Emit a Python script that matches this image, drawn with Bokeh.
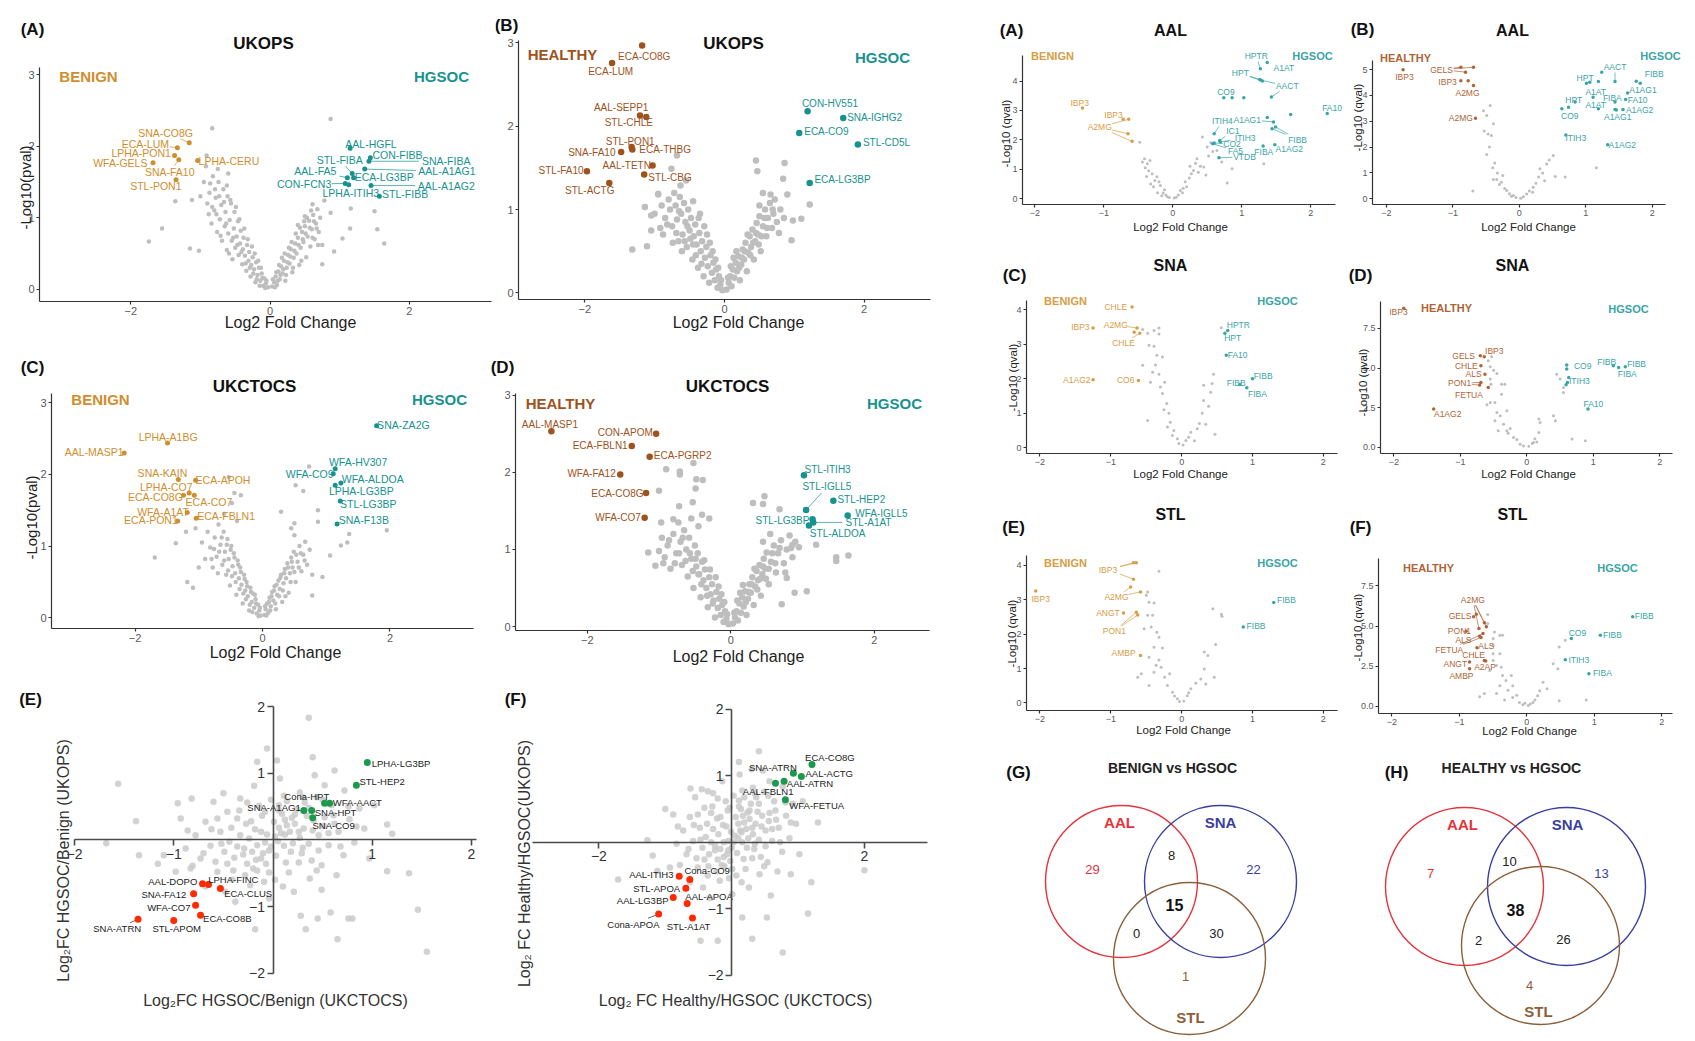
import math
from bokeh.plotting import figure
from bokeh.models import Range1d, FixedTicker, Label, NumeralTickFormatter
from bokeh.layouts import row, column
from bokeh.core.properties import value
from bokeh.embed import file_html
from bokeh.resources import INLINE

FONT = "Liberation Sans"
ORANGE = "#CF8E2E"; TEAL = "#17928F"; BROWN = "#9E521C"; GRAY = "#BEBEBE"
ORANGE_R = "#D69D45"; TEAL_R = "#3AA4A6"; BROWN_R = "#AE6436"
GREEN = "#1B9A4E"; RED = "#FF2A00"

# ---------------- DATA ----------------
# (A) UKOPS benign vs HGSOC
A_names = ["SNA-CO8G","ECA-LUM","LPHA-PON1","WFA-GELS","SNA-FA10","STL-PON1","LPHA-CERU","AAL-HGFL","CON-FIBB","STL-FIBA","SNA-FIBA","AAL-A1AG1","AAL-FA5","ECA-LG3BP","CON-FCN3","LPHA-ITIH3","AAL-A1AG2","STL-FIBB"]
A_fc = [-1.16,-1.33,-1.37,-1.68,-1.31,-1.35,-1.04,1.15,1.44,1.18,1.42,1.36,1.11,1.20,1.08,1.13,1.45,1.57]
A_lp = [2.05,1.98,1.87,1.77,1.81,1.53,1.80,1.97,1.84,1.62,1.79,1.68,1.56,1.56,1.48,1.46,1.45,1.30]
A_lpos = [(-1.50,2.19),(-1.79,2.03),(-1.85,1.90),(-2.15,1.77),(-1.44,1.64),(-1.64,1.44),(-0.59,1.80),(1.45,2.03),(1.83,1.88),(1.00,1.81),(2.53,1.79),(2.54,1.65),(0.65,1.65),(1.64,1.57),(0.49,1.47),(1.16,1.35),(2.53,1.45),(1.94,1.33)]
A_bg = [(-0.03,0.03),(-0.06,0.08),(-0.08,0.15),(-0.1,0.05),(-0.12,0.22),(-0.14,0.12),(-0.16,0.3),(-0.18,0.2),(-0.2,0.38),(-0.21,0.1),(-0.23,0.28),(-0.25,0.45),(-0.27,0.34),(-0.28,0.18),(-0.3,0.52),(-0.31,0.4),(-0.33,0.62),(-0.34,0.26),(-0.36,0.47),(-0.38,0.72),(-0.39,0.56),(-0.4,0.35),(-0.42,0.82),(-0.43,0.64),(-0.45,0.48),(-0.46,0.95),(-0.48,0.74),(-0.5,0.58),(-0.51,1.08),(-0.52,0.85),(-0.54,0.42),(-0.55,0.68),(-0.56,1.2),(-0.58,0.97),(-0.6,0.78),(-0.61,1.3),(-0.62,0.55),(-0.64,1.08),(-0.65,0.88),(-0.67,1.4),(-0.69,0.68),(-0.7,1.18),(-0.72,0.98),(-0.74,1.5),(-0.76,0.8),(-0.78,1.28),(-0.8,1.1),(-0.82,1.58),(-0.84,0.92),(-0.87,1.35),(-0.9,1.2),(-0.95,1.5),(-1.0,1.3),(-0.92,1.72),(-0.62,1.45),
        (-0.05,0.12),(-0.07,0.02),(-0.11,0.16),(-0.13,0.3),(-0.15,0.05),(-0.17,0.4),(-0.19,0.14),(-0.22,0.5),(-0.24,0.22),(-0.26,0.6),(-0.29,0.3),(-0.32,0.7),(-0.35,0.36),(-0.37,0.85),(-0.41,0.52),(-0.44,0.98),(-0.47,0.62),(-0.49,1.15),(-0.53,0.72),(-0.57,1.25),(-0.59,0.5),(-0.63,0.92),(-0.66,1.22),(-0.71,0.75),(-0.73,1.3),(-0.77,1.05),(-0.79,1.4),(-0.83,1.15),(-0.86,1.48),(-0.88,1.05),
        (0.03,0.04),(0.06,0.1),(0.08,0.18),(0.1,0.06),(0.12,0.25),(0.14,0.14),(0.16,0.32),(0.18,0.22),(0.2,0.4),(0.22,0.12),(0.24,0.3),(0.26,0.48),(0.28,0.36),(0.3,0.56),(0.32,0.24),(0.34,0.44),(0.36,0.64),(0.38,0.5),(0.4,0.72),(0.42,0.34),(0.44,0.58),(0.46,0.8),(0.48,0.66),(0.5,0.88),(0.52,0.45),(0.54,0.74),(0.56,0.96),(0.58,0.6),(0.6,0.84),(0.62,1.04),(0.64,0.7),(0.66,0.92),(0.68,1.12),(0.7,0.8),(0.72,1.0),(0.75,0.62),(0.5,1.02),(0.4,0.9),
        (0.04,0.14),(0.07,0.03),(0.09,0.24),(0.11,0.12),(0.13,0.34),(0.15,0.2),(0.17,0.44),(0.19,0.28),(0.21,0.5),(0.23,0.2),(0.25,0.38),(0.27,0.58),(0.29,0.46),(0.31,0.66),(0.33,0.3),(0.35,0.54),(0.37,0.78),(0.41,0.62),(0.43,0.86),(0.45,0.4),(0.47,0.7),(0.49,0.95),(0.51,0.78),(0.53,1.0),(0.57,0.86),(0.59,1.1),(0.61,0.72),(0.63,0.95),(0.67,0.85),(0.69,0.62),
        (0.87,2.38),(-0.83,2.25),(-0.91,1.87),(-1.36,1.23),(-1.12,1.25),(-1.55,0.85),(-1.74,0.67),(-1.15,0.57),(-1.02,0.54),(1.16,1.13),(1.5,1.09),(1.54,0.84),(1.64,0.64),(1.15,0.85),(0.78,1.24),(0.61,1.19),(0.87,1.07),(1.04,0.71),(0.92,0.53),(0.75,0.35),(-0.75,1.68),(-0.6,1.62)]

# (B) UKOPS healthy vs HGSOC
B_names = ["ECA-CO8G","ECA-LUM","AAL-SEPP1","STL-CHLE","STL-PON1","ECA-THBG","SNA-FA10","AAL-TETN","STL-FA10","STL-CBG","STL-ACTG","CON-HV551","SNA-IGHG2","ECA-CO9","STL-CD5L","ECA-LG3BP"]
B_fc = [-1.18,-1.61,-1.21,-1.12,-1.33,-1.32,-1.48,-1.03,-1.97,-1.15,-1.65,1.19,1.70,1.07,1.91,1.22]
B_lp = [2.97,2.76,2.13,2.11,1.75,1.72,1.69,1.53,1.46,1.42,1.32,2.18,2.10,1.92,1.78,1.32]
B_lpos = [(-1.15,2.84),(-1.63,2.66),(-1.48,2.22),(-1.37,2.04),(-1.35,1.82),(-0.85,1.72),(-1.90,1.68),(-1.40,1.53),(-2.34,1.47),(-0.78,1.38),(-1.93,1.23),(1.51,2.27),(2.15,2.10),(1.46,1.94),(2.32,1.81),(1.69,1.36)]
B_bg = [(-0.03,0.03),(-0.06,0.1),(-0.08,0.2),(-0.1,0.06),(-0.12,0.28),(-0.14,0.15),(-0.16,0.36),(-0.18,0.24),(-0.2,0.45),(-0.22,0.12),(-0.24,0.32),(-0.26,0.55),(-0.28,0.42),(-0.3,0.2),(-0.32,0.62),(-0.34,0.5),(-0.36,0.72),(-0.38,0.3),(-0.4,0.58),(-0.42,0.82),(-0.44,0.68),(-0.46,0.4),(-0.48,0.9),(-0.5,0.75),(-0.52,1.0),(-0.54,0.55),(-0.56,0.85),(-0.58,1.08),(-0.6,0.7),(-0.62,0.95),(-0.64,1.15),(-0.66,0.62),(-0.68,0.88),(-0.7,1.05),(-0.72,1.2),(-0.75,0.8),(-0.78,1.0),(-0.8,1.12),(-0.85,0.9),(-0.9,1.05),(-0.95,1.18),(-1.0,0.95),(-1.05,0.75),(-0.88,0.7),(-0.45,1.1),(-0.35,0.95),
        (-0.05,0.15),(-0.09,0.3),(-0.13,0.4),(-0.17,0.5),(-0.21,0.6),(-0.25,0.7),(-0.29,0.8),(-0.33,0.35),(-0.37,0.9),(-0.41,0.45),(-0.45,0.58),(-0.49,0.65),(-0.53,0.8),(-0.57,0.62),(-0.61,0.5),(-0.65,0.98),(-0.69,0.72),(-0.74,0.6),(-0.82,0.82),(-0.92,0.78),
        (0.03,0.04),(0.06,0.12),(0.08,0.2),(0.1,0.08),(0.12,0.28),(0.14,0.18),(0.16,0.36),(0.18,0.26),(0.2,0.44),(0.22,0.15),(0.24,0.34),(0.26,0.52),(0.28,0.4),(0.3,0.6),(0.32,0.26),(0.34,0.48),(0.36,0.68),(0.38,0.55),(0.4,0.76),(0.42,0.4),(0.44,0.62),(0.46,0.84),(0.48,0.7),(0.5,0.92),(0.52,0.5),(0.55,0.8),(0.58,1.0),(0.6,0.68),(0.62,0.9),(0.65,1.08),(0.68,0.78),(0.7,0.95),(0.72,1.12),(0.75,0.85),(0.8,1.0),(0.85,0.9),(0.66,1.18),(0.5,1.05),
        (0.05,0.18),(0.09,0.32),(0.13,0.42),(0.17,0.5),(0.21,0.3),(0.25,0.42),(0.29,0.5),(0.33,0.7),(0.37,0.45),(0.41,0.6),(0.45,0.72),(0.49,0.58),(0.53,0.68),(0.57,0.9),(0.61,0.78),(0.69,1.0),(0.78,0.72),
        (-0.68,1.65),(1.22,1.06),(0.45,1.59),(0.47,1.46),(0.86,1.56),(0.84,1.37),(-1.32,0.52),(-1.11,0.56),(-1.14,1.03),(-1.05,0.93),(1.10,0.89),(0.98,0.87),(0.96,0.63),(-0.63,1.29),(-0.95,1.19),(-0.76,1.49),(-0.55,1.35),(0.55,1.2),(0.9,1.18)]

# (C) UKCTOCS benign vs HGSOC
C_names = ["LPHA-A1BG","AAL-MASP1","SNA-KAIN","ECA-APOH","LPHA-CO7","ECA-CO8G","ECA-CO7","WFA-A1AT","ECA-FBLN1","ECA-PON1","SNA-ZA2G","WFA-HV307","WFA-CO9","WFA-ALDOA","LPHA-LG3BP","STL-LG3BP","SNA-F13B"]
C_fc = [-1.49,-2.17,-1.32,-1.05,-1.15,-1.24,-1.07,-1.18,-1.04,-1.33,1.79,1.14,1.11,1.23,1.14,1.22,1.17]
C_lp = [2.44,2.30,1.93,1.92,1.74,1.71,1.71,1.47,1.39,1.35,2.68,2.08,2.01,1.88,1.85,1.63,1.31]
C_lpos = [(-1.48,2.52),(-2.64,2.31),(-1.57,2.02),(-0.62,1.92),(-1.51,1.82),(-1.68,1.68),(-0.84,1.61),(-1.56,1.48),(-0.57,1.42),(-1.75,1.36),(2.21,2.69),(1.50,2.17),(0.74,2.01),(1.73,1.93),(1.55,1.77),(1.66,1.59),(1.59,1.36)]
C_bg = [(-0.03,0.03),(-0.05,0.1),(-0.07,0.18),(-0.09,0.06),(-0.11,0.26),(-0.13,0.14),(-0.15,0.34),(-0.17,0.22),(-0.19,0.42),(-0.21,0.1),(-0.23,0.3),(-0.25,0.5),(-0.27,0.38),(-0.29,0.6),(-0.31,0.2),(-0.33,0.46),(-0.35,0.7),(-0.37,0.55),(-0.39,0.8),(-0.41,0.32),(-0.43,0.62),(-0.45,0.9),(-0.47,0.72),(-0.49,1.0),(-0.51,0.45),(-0.53,0.82),(-0.55,1.1),(-0.57,0.6),(-0.59,0.92),(-0.61,1.2),(-0.63,0.74),(-0.66,1.02),(-0.69,1.3),(-0.72,0.85),(-0.75,1.12),(-0.78,0.7),(-0.82,0.98),(-0.86,1.2),(-0.9,0.82),(-0.95,1.05),(-1.0,0.7),(-0.48,1.6),(-0.44,1.74),(-0.53,1.96),(-0.34,1.71),(-0.4,1.35),(-0.6,1.45),
        (-0.04,0.14),(-0.06,0.02),(-0.1,0.2),(-0.12,0.32),(-0.16,0.08),(-0.18,0.36),(-0.2,0.18),(-0.24,0.44),(-0.26,0.26),(-0.28,0.54),(-0.3,0.34),(-0.34,0.64),(-0.36,0.4),(-0.38,0.74),(-0.42,0.5),(-0.44,0.84),(-0.48,0.58),(-0.5,0.95),(-0.54,0.66),(-0.56,1.02),(-0.6,0.8),(-0.64,1.12),(-0.68,0.92),(-0.7,0.62),(-0.76,0.96),(-0.8,0.82),
        (0.03,0.04),(0.05,0.12),(0.07,0.2),(0.09,0.07),(0.11,0.28),(0.13,0.16),(0.15,0.36),(0.17,0.24),(0.19,0.44),(0.21,0.12),(0.23,0.32),(0.25,0.52),(0.27,0.4),(0.29,0.6),(0.31,0.22),(0.33,0.48),(0.35,0.68),(0.37,0.55),(0.39,0.76),(0.41,0.35),(0.43,0.62),(0.45,0.84),(0.47,0.7),(0.49,0.92),(0.52,0.5),(0.55,0.78),(0.58,1.0),(0.61,0.65),(0.64,0.88),(0.67,1.06),(0.7,0.74),(0.74,0.95),(0.78,0.6),(0.5,1.15),(0.45,1.25),
        (0.04,0.16),(0.06,0.03),(0.1,0.22),(0.12,0.1),(0.14,0.3),(0.18,0.38),(0.2,0.2),(0.22,0.46),(0.26,0.3),(0.28,0.56),(0.32,0.38),(0.34,0.62),(0.36,0.3),(0.4,0.7),(0.44,0.5),(0.46,0.78),(0.5,0.64),(0.53,0.88),(0.57,0.7),(0.6,0.9),(0.66,0.8),
        (0.73,2.11),(0.52,1.85),(0.64,1.77),(1.95,1.22),(1.36,1.17),(1.33,1.05),(1.23,1.01),(1.06,0.87),(-1.69,0.84),(-1.09,0.42),(-1.18,0.5),(-1.36,1.04),(0.29,1.48),(0.87,1.5),(0.87,1.34),(0.5,1.32),(0.78,0.31),(0.94,0.57),(-1.2,1.2),(-1.05,1.25)]

# (D) UKCTOCS healthy vs HGSOC
D_names = ["AAL-MASP1","CON-APOM","ECA-FBLN1","ECA-PGRP2","WFA-FA12","ECA-CO8G","WFA-CO7","STL-ITIH3","STL-IGLL5","STL-HEP2","WFA-IGLL5","STL-A1AT","STL-LG3BP","STL-ALDOA"]
D_fc = [-2.50,-1.04,-1.38,-1.13,-1.54,-1.18,-1.20,1.02,1.05,1.43,1.63,1.15,1.14,1.09]
D_lp = [2.53,2.50,2.34,2.20,1.97,1.73,1.41,1.96,1.51,1.63,1.44,1.35,1.39,1.31]
D_lpos = [(-2.52,2.62),(-1.47,2.52),(-1.82,2.34),(-0.67,2.22),(-1.94,1.98),(-1.58,1.73),(-1.57,1.42),(1.35,2.04),(1.34,1.81),(1.82,1.65),(2.10,1.46),(1.92,1.35),(0.72,1.38),(1.49,1.21)]
D_bg = [(-0.03,0.03),(-0.06,0.1),(-0.08,0.2),(-0.1,0.06),(-0.12,0.28),(-0.14,0.15),(-0.16,0.36),(-0.18,0.24),(-0.2,0.45),(-0.22,0.12),(-0.24,0.34),(-0.26,0.55),(-0.28,0.42),(-0.3,0.64),(-0.32,0.25),(-0.34,0.5),(-0.36,0.74),(-0.38,0.6),(-0.4,0.84),(-0.42,0.38),(-0.44,0.68),(-0.46,0.95),(-0.48,0.78),(-0.5,1.05),(-0.52,0.5),(-0.55,0.88),(-0.58,1.15),(-0.6,0.65),(-0.62,1.0),(-0.65,1.25),(-0.68,0.8),(-0.7,1.1),(-0.73,1.35),(-0.76,0.95),(-0.8,1.2),(-0.84,0.75),(-0.88,1.05),(-0.92,0.9),(-0.96,1.15),(-1.0,0.98),(-0.45,1.3),(-0.55,1.4),
        (-0.05,0.16),(-0.09,0.32),(-0.13,0.42),(-0.17,0.52),(-0.21,0.64),(-0.25,0.3),(-0.29,0.74),(-0.33,0.4),(-0.37,0.86),(-0.41,0.55),(-0.45,0.68),(-0.49,0.88),(-0.53,0.72),(-0.57,0.95),(-0.63,0.85),(-0.67,1.15),(-0.72,0.95),(-0.78,0.82),(-0.86,1.12),(-0.94,0.82),
        (0.03,0.04),(0.06,0.12),(0.08,0.2),(0.1,0.08),(0.12,0.3),(0.14,0.18),(0.16,0.38),(0.18,0.26),(0.2,0.46),(0.22,0.15),(0.24,0.36),(0.26,0.55),(0.28,0.44),(0.3,0.64),(0.32,0.28),(0.34,0.52),(0.36,0.72),(0.38,0.6),(0.4,0.8),(0.42,0.4),(0.44,0.68),(0.46,0.88),(0.48,0.75),(0.5,0.96),(0.53,0.55),(0.56,0.84),(0.6,1.05),(0.63,0.7),(0.66,0.95),(0.7,1.12),(0.74,0.82),(0.78,1.0),(0.82,1.18),(0.86,0.9),(0.9,1.1),(0.55,1.2),(0.45,1.1),
        (0.05,0.18),(0.09,0.34),(0.13,0.44),(0.17,0.54),(0.21,0.32),(0.25,0.45),(0.29,0.55),(0.33,0.75),(0.37,0.48),(0.41,0.62),(0.45,0.78),(0.49,0.62),(0.53,0.75),(0.58,0.95),(0.62,0.82),(0.68,1.02),(0.76,0.7),(0.84,1.02),
        (-0.90,2.04),(-0.71,2.01),(-0.71,1.97),(-0.52,2.12),(-0.48,1.91),(-0.39,1.90),(-0.49,1.79),(-1.00,1.76),(-0.72,1.56),(-0.53,1.61),(-0.80,1.39),(-0.97,1.35),(-1.15,0.96),(-1.05,0.79),(0.31,1.60),(0.47,1.69),(0.45,1.59),(0.68,1.52),(0.86,1.06),(0.95,1.03),(1.19,1.06),(1.47,0.90),(1.64,0.92),(1.47,0.85),(1.06,0.46),(0.89,0.44),(0.71,0.29),(0.78,0.63),(-0.4,1.45),(-0.3,1.4)]

# (E) fold-change concordance benign
E_names = ["LPHA-LG3BP","STL-HEP2","Cona-HPT","WFA-AACT","SNA-A1AG1","SNA-HPT","SNA-CO9","AAL-DOPO","LPHA-FINC","ECA-CLUS","SNA-FA12","WFA-CO7","ECA-CO8B","SNA-ATRN","STL-APOM"]
E_x = [0.95,0.84,0.52,0.57,0.31,0.39,0.40,-0.71,-0.65,-0.53,-0.80,-0.78,-0.73,-1.36,-1.00]
E_y = [1.16,0.82,0.55,0.55,0.44,0.44,0.33,-0.66,-0.67,-0.73,-0.81,-0.98,-1.13,-1.19,-1.21]
E_lpos = [(1.29,1.14),(1.10,0.87),(0.34,0.65),(0.85,0.56),(0.01,0.48),(0.63,0.41),(0.61,0.22),(-1.01,-0.62),(-0.40,-0.59),(-0.25,-0.81),(-1.10,-0.82),(-1.05,-1.01),(-0.46,-1.18),(-1.57,-1.33),(-0.97,-1.33)]
E_bg = [(0.02,0.05),(0.12,0.08),(-0.08,-0.04),(0.06,0.18),(-0.04,-0.16),(0.17,0.12),(-0.16,-0.08),(0.22,0.24),(-0.21,-0.18),(0.11,-0.09),(-0.12,0.12),(0.27,0.03),(-0.24,0.02),(0.01,0.27),(0.03,-0.24),(0.31,0.17),(-0.29,-0.13),(0.19,0.33),(-0.17,-0.3),(0.36,-0.06),(-0.33,0.07),(0.09,0.39),(-0.07,-0.36),(0.41,0.29),(-0.39,-0.27),(0.29,-0.2),(-0.27,0.24),(0.46,0.07),(-0.44,-0.03),(0.13,-0.34),(-0.11,0.36),(0.24,0.46),(-0.2,-0.43),(0.51,0.21),(-0.49,-0.18),(0.39,-0.31),(-0.36,0.32),(0.06,0.52),(-0.04,-0.49),(0.56,-0.08),(-0.53,0.12),(0.32,0.56),(-0.28,-0.53),(0.61,0.37),(-0.58,-0.33),(0.16,-0.49),(-0.14,0.51),(0.49,-0.38),(-0.46,0.42),(0.66,0.12),(-0.63,-0.09),(0.44,0.64),(-0.41,-0.6),(0.71,-0.23),(-0.68,0.27),(0.27,0.71),(-0.23,-0.68),(0.59,0.52),(-0.56,-0.48),(0.77,0.31),(-0.73,-0.28),(0.11,0.66),(-0.09,-0.63),(0.37,-0.58),(-0.33,0.62),(0.82,-0.04),(-0.78,0.07),(0.52,0.82),(-0.48,-0.78),(0.87,0.47),(-0.83,-0.43),(0.64,-0.53),(-0.6,0.57),(0.21,-0.78),(-0.19,0.81),(0.92,0.17),(-0.88,-0.13),(0.72,0.74),(-0.68,-0.7),(0.07,0.92),(-0.04,-0.88),(1.02,0.52),(-0.98,-0.48),(0.97,-0.28),(-0.93,0.32),(0.42,0.97),(-0.38,-0.93),
        (0.05,-0.02),(0.14,0.22),(-0.1,-0.2),(0.2,-0.05),(-0.18,0.16),(0.08,0.1),(-0.06,0.08),(0.26,0.12),(-0.3,-0.22),(0.34,0.36),(-0.12,-0.28),(0.18,-0.18),(-0.22,0.28),(0.3,-0.12),(-0.36,-0.1),(0.12,0.3),(-0.02,-0.1),(0.4,0.14),(-0.42,0.18),(0.22,0.38),(-0.26,-0.36),(0.46,-0.16),(-0.46,-0.36),(0.06,0.44),(-0.08,0.42),(0.36,0.48),(-0.34,0.44),(0.52,0.34),(-0.52,-0.06),(0.26,-0.34),(-0.16,-0.46),(0.56,0.1),(-0.56,0.32),(0.14,0.58),(-0.02,0.6),(0.44,-0.46),(-0.4,-0.46),(0.62,0.24),(-0.62,0.16),(0.3,0.64),(0.02,-0.6),(-0.26,0.56),(0.5,0.6),(-0.7,-0.2),(0.68,-0.1),(0.1,-0.7),(0.76,0.5),(-0.5,0.7),(0.84,0.2),(-0.86,0.14),
        (0.36,1.83),(-0.06,1.37),(0.04,1.19),(-0.16,1.17),(0.40,1.24),(0.62,1.04),(-1.56,0.84),(-1.38,0.28),(-1.68,-0.05),(-0.82,0.62),(-0.96,0.55),(1.15,0.23),(1.20,0.09),(1.15,-0.47),(1.37,-0.50),(1.46,-1.05),(1.55,-1.68),(0.65,-1.49),(0.33,-1.34),(-0.18,-1.34),(0.58,-1.09),(0.76,-1.18),(0.80,-1.18),(0.45,-1.18),(0.28,-1.14),(0.49,-0.75),(-1.16,-0.36),(-1.10,-0.23),(-0.81,-0.39),(-1.35,-0.23)]

# (F) fold-change concordance healthy
F_names = ["ECA-CO8G","SNA-ATRN","AAL-ACTG","AAL-ATRN","AAL-FBLN1","WFA-FETUA","AAL-ITIH3","Cona-CO9","STL-APOA","AAL-LG3BP","AAL-APOA","Cona-APOA","STL-A1AT"]
F_x = [1.21,0.93,1.05,0.79,0.66,0.81,-0.79,-0.63,-0.69,-0.88,-0.67,-1.10,-0.59]
F_y = [1.17,1.04,0.99,0.92,0.89,0.64,-0.51,-0.56,-0.69,-0.83,-0.92,-1.08,-1.14]
F_lpos = [(1.48,1.28),(0.62,1.13),(1.47,1.03),(1.18,0.88),(0.55,0.76),(1.28,0.56),(-1.21,-0.48),(-0.37,-0.43),(-1.13,-0.69),(-1.34,-0.88),(-0.34,-0.81),(-1.48,-1.23),(-0.65,-1.27)]
F_bg = [(0.05,0.1),(0.15,0.15),(-0.05,0.02),(0.1,0.28),(0.0,-0.08),(0.22,0.2),(-0.12,0.0),(0.27,0.35),(-0.17,-0.1),(0.16,0.0),(-0.08,0.24),(0.32,0.12),(-0.2,0.12),(0.06,0.38),(0.08,-0.16),(0.36,0.28),(-0.25,-0.05),(0.24,0.45),(-0.12,-0.22),(0.41,0.04),(-0.28,0.2),(0.14,0.5),(-0.02,-0.28),(0.46,0.4),(-0.34,-0.18),(0.34,-0.1),(-0.22,0.36),(0.51,0.18),(-0.39,0.08),(0.18,-0.25),(-0.06,0.48),(0.29,0.58),(-0.15,-0.34),(0.56,0.32),(-0.44,-0.08),(0.44,-0.22),(-0.31,0.44),(0.11,0.63),(0.01,-0.4),(0.61,0.02),(-0.48,0.22),(0.37,0.68),(-0.23,-0.44),(0.66,0.48),(-0.53,-0.24),(0.21,-0.4),(-0.09,0.62),(0.54,-0.3),(-0.41,0.52),(0.71,0.22),(-0.58,0.02),(0.49,0.76),(-0.36,-0.5),(0.76,-0.14),(-0.63,0.38),(0.32,0.82),(-0.18,-0.58),(0.64,0.62),(-0.51,-0.38),(0.82,0.4),(-0.68,-0.18),(0.16,0.78),(-0.04,-0.54),(0.42,-0.48),(-0.28,0.74),(0.87,0.06),(-0.73,0.18),(0.57,0.92),(-0.43,-0.68),(0.92,0.58),(-0.78,-0.34),(0.69,-0.44),(-0.55,0.68),(0.26,-0.68),(-0.14,0.92),(0.97,0.28),(-0.83,-0.02),(0.77,0.84),(-0.63,-0.6),(0.12,1.02),(0.01,-0.78),(1.07,0.62),(-0.93,-0.38),(1.02,-0.18),(-0.88,0.42),(0.47,1.08),(-0.33,-0.84),
        (0.1,0.06),(0.19,0.3),(-0.05,-0.12),(0.25,0.06),(-0.13,0.26),(0.13,0.18),(-0.01,0.16),(0.31,0.22),(-0.25,-0.12),(0.39,0.46),(-0.07,-0.18),(0.23,-0.08),(-0.17,0.38),(0.35,-0.02),(-0.31,0.0),(0.17,0.4),(0.03,0.0),(0.45,0.24),(-0.37,0.28),(0.27,0.48),(-0.21,-0.26),(0.51,-0.06),(-0.41,-0.26),(0.11,0.54),(-0.03,0.52),(0.41,0.58),(-0.29,0.54),(0.57,0.44),(-0.47,0.04),(0.31,-0.24),(-0.11,-0.36),(0.61,0.2),(-0.51,0.42),(0.19,0.68),(0.03,0.7),(0.49,-0.36),(-0.35,-0.36),(0.67,0.34),(-0.57,0.26),(0.35,0.74),(0.07,-0.5),(-0.21,0.66),(0.55,0.7),(-0.65,-0.1),(0.73,0.0),(0.15,-0.6),(0.81,0.6),(-0.45,0.8),(0.89,0.3),(-0.81,0.24),
        (0.41,1.37),(0.11,1.21),(-0.62,0.81),(-0.36,0.77),(-1.27,0.03),(-1.19,-0.20),(-1.71,-0.56),(2.0,-0.42),(1.15,-1.07),(0.89,-0.48),(0.77,-1.66),(0.31,-1.45),(-0.21,-1.48),(-0.47,-1.48),(0.16,-1.13),(0.53,-1.13),(0.59,-0.80),(-1.12,-0.43),(1.3,0.3),(1.2,-0.6),(-1.0,0.5),(0.3,1.1)]

# Right (A) AAL benign
RA_names = ["IBP3","IBP3","A2MG","","","HPTR","A1AT","HPT","","AACT","","CO9","","","","FA10","A1AG1","","FIBB","","ITIH4","IC1","ITIH3","CO2","FA5","VTDB","FIBA","A1AG2"]
RA_fc = [-1.31,-0.72,-0.64,-0.65,-0.59,1.27,1.37,1.26,1.30,1.43,1.28,0.74,0.86,1.03,1.71,2.24,1.37,1.46,1.49,1.44,0.60,0.68,0.69,0.60,0.58,0.67,1.31,1.48]
RA_q = [3.08,2.70,2.70,2.21,1.95,4.42,4.63,4.05,4.0,3.46,4.03,3.43,3.43,3.43,2.86,2.90,2.76,2.61,2.44,2.38,2.21,1.98,1.93,1.89,1.87,1.39,1.79,1.83]
RA_lpos = [(-1.35,3.25),(-0.86,2.85),(-1.06,2.43),(-1.06,2.43),(-1.06,2.43),(1.21,4.84),(1.61,4.46),(0.98,4.27),(0.98,4.27),(1.66,3.83),(1.66,3.83),(0.77,3.64),None,None,None,(2.31,3.07),(1.08,2.69),(1.08,2.69),(1.81,2.01),(1.81,2.01),(0.72,2.64),(0.87,2.30),(1.05,2.07),(0.86,1.87),(0.91,1.62),(1.04,1.42),(1.32,1.59),(1.69,1.69)]
RA_bg = [(-0.48,1.92),(-0.41,1.36),(-0.44,1.25),(-0.37,1.19),(-0.40,1.05),(-0.35,0.95),(-0.30,0.85),(-0.23,0.74),(-0.26,0.62),(-0.20,0.57),(-0.28,0.40),(-0.18,0.45),(-0.14,0.19),(-0.12,0.30),(-0.08,0.06),(-0.10,0.12),(-0.05,0.04),(-0.16,0.10),(-0.22,0.20),(0.02,0.02),(0.05,0.05),(0.08,0.12),(0.11,0.28),(0.14,0.20),(0.18,0.57),(0.20,0.40),(0.24,0.70),(0.27,0.85),(0.30,0.96),(0.33,1.20),(0.35,1.36),(0.37,0.90),(0.40,1.10),(0.45,1.08),(0.43,2.10),(0.50,1.76),(0.79,0.53),(0.86,1.02),(0.71,1.25),(1.32,1.19),(0.64,1.64),(0.55,1.90),(0.58,1.60),(0.52,1.45),(0.25,1.10),(0.15,0.35),(-0.32,0.50),(-0.38,0.75),(-0.33,1.30),(0.48,0.8)]

# Right (B) AAL healthy
RB_names = ["IBP3","GELS","","","IBP3","A2MG","","A2MG","AACT","","HPT","","FIBB","","A1AT","","HPT","FIBA","FA10","A1AG1","A1AT","A1AG2","","CO9","","A1AG1","ITIH3","A1AG2"]
RB_fc = [-1.75,-0.88,-0.69,-0.81,-0.88,-0.77,-0.69,-0.66,1.24,1.44,1.01,1.06,1.76,1.82,1.19,1.11,0.84,1.44,1.60,1.63,1.19,1.56,1.44,0.64,0.74,1.46,0.70,1.33]
RB_q = [4.99,5.09,5.09,4.90,4.57,4.57,4.38,3.12,4.90,4.54,4.47,4.51,4.55,4.47,4.54,3.93,3.74,3.74,3.84,4.09,3.48,3.45,3.45,3.48,3.54,3.44,2.47,2.09]
RB_lpos = [(-1.73,4.70),(-1.17,5.0),(-1.17,5.0),(-1.17,5.0),(-1.08,4.51),(-0.78,4.10),(-0.78,4.10),(-0.88,3.12),(1.44,5.09),(1.44,5.09),(0.99,4.68),None,(2.03,4.81),(2.03,4.81),(1.15,4.12),None,(0.82,3.84),(1.40,3.89),(1.78,3.84),(1.86,4.19),(1.15,3.61),(1.81,3.45),None,(0.76,3.20),None,(1.48,3.16),(0.85,2.35),(1.55,2.09)]
RB_bg = [(-0.44,3.61),(-0.54,3.41),(-0.49,3.22),(-0.53,2.62),(-0.47,2.51),(-0.42,2.45),(-0.39,2.90),(-0.49,1.71),(-0.37,1.39),(-0.39,0.75),(-0.34,0.75),(-0.27,0.64),(-0.19,0.32),(-0.09,0.13),(-0.70,0.30),(-0.45,2.0),(-0.40,1.2),(-0.33,1.0),(-0.30,0.55),(-0.22,0.4),(-0.15,0.2),(-0.05,0.05),(0.02,0.02),(0.06,0.08),(0.11,0.19),(0.15,0.3),(0.21,0.45),(0.25,0.6),(0.29,0.84),(0.31,1.16),(0.35,1.0),(0.41,1.35),(0.45,1.5),(0.51,1.68),(0.54,0.86),(0.69,0.84),(1.16,1.2),(0.38,0.7),(0.2,0.25),(-0.12,0.1),(-0.25,0.9)]

# Right (C) SNA benign
RC_names = ["CHLE","IBP3","A2MG","","CHLE","A1AG2","CO6","HPTR","HPT","FA10","FIBB","FIBB","FIBA"]
RC_fc = [-0.70,-1.25,-0.63,-0.67,-0.59,-1.25,-0.61,0.65,0.61,0.63,1.0,0.82,0.92]
RC_q = [4.08,3.47,3.47,3.35,3.32,1.97,1.95,3.40,3.32,2.68,2.0,1.83,1.74]
RC_lpos = [(-0.93,4.08),(-1.43,3.50),(-0.93,3.57),(-0.93,3.57),(-0.82,3.03),(-1.48,1.97),(-0.79,1.97),(0.80,3.55),(0.72,3.18),(0.79,2.70),(1.15,2.08),(0.77,1.87),(1.07,1.57)]
RC_bg = [(-0.55,3.43),(-0.48,3.32),(-0.39,3.40),(-0.32,3.47),(-0.32,3.30),(-0.46,2.97),(-0.39,2.94),(-0.35,2.68),(-0.27,2.63),(-0.55,2.39),(-0.41,2.19),(-0.32,2.13),(-0.44,1.90),(-0.30,1.76),(-0.27,1.57),(-0.21,1.28),(-0.18,1.00),(-0.48,0.79),(-0.16,0.74),(-0.11,0.50),(-0.06,0.26),(-0.04,0.12),(0.06,0.21),(0.13,0.45),(0.22,0.55),(0.29,1.00),(0.31,1.37),(0.41,1.61),(0.43,1.86),(0.45,2.13),(0.31,1.81),(0.47,0.39),(0.34,0.68),(0.56,3.48),(-0.25,1.1),(-0.2,0.6),(-0.13,0.35),(0.02,0.08),(0.1,0.3),(0.18,0.2),(0.25,0.7),(0.38,1.2),(-0.37,2.4),(-0.24,1.9)]

# Right (D) SNA healthy
RD_names = ["IBP3","GELS","IBP3","CHLE","ALS","PON1","","FETUA","A1AG2","CO9","","ITIH3","","","FIBB","FIBB","FIBA","FA10"]
RD_fc = [-1.85,-0.70,-0.64,-0.69,-0.63,-0.69,-0.71,-0.58,-1.40,0.60,0.60,0.63,0.61,0.59,1.30,1.48,1.38,0.92]
RD_q = [8.78,5.78,5.71,5.15,4.62,4.10,3.93,3.78,2.42,5.19,4.94,4.41,4.10,3.95,5.15,5.08,5.04,2.42]
RD_lpos = [(-1.93,8.51),(-0.95,5.78),(-0.49,6.09),(-0.91,5.15),(-0.80,4.62),(-1.01,4.05),(-1.01,4.05),(-0.87,3.30),(-1.19,2.14),(0.84,5.15),(0.84,5.15),(0.79,4.20),(0.79,4.20),None,(1.20,5.40),(1.65,5.29),(1.51,4.66),(1.0,2.73)]
RD_bg = [(-0.58,5.46),(-0.53,5.71),(-0.55,5.08),(-0.50,4.87),(-0.45,4.66),(-0.55,4.31),(-0.54,3.99),(-0.38,3.99),(-0.33,3.99),(-0.55,2.84),(-0.48,2.84),(-0.38,3.36),(-0.45,2.21),(-0.40,2.00),(-0.30,2.31),(-0.48,1.68),(-0.35,1.47),(-0.30,1.05),(-0.43,1.05),(-0.20,0.63),(-0.10,0.21),(0.10,0.32),(0.18,0.95),(0.20,1.58),(0.18,1.79),(0.40,2.00),(0.43,1.68),(0.45,4.62),(0.50,4.31),(0.55,3.47),(0.55,3.78),(0.68,0.53),(0.88,0.42),(-0.25,1.2),(-0.15,0.5),(-0.05,0.1),(0.03,0.08),(0.08,0.25),(0.12,0.55),(0.15,0.35),(-0.28,0.9),(-0.6,2.7)]

# Right (E) STL benign
RE_names = ["IBP3","","","IBP3","A2MG","","ANGT","PON1","","AMBP","FIBB","FIBB"]
RE_fc = [-0.68,-0.64,-0.68,-2.06,-0.72,-0.58,-0.82,-0.64,-0.62,-0.58,1.30,0.87]
RE_q = [4.08,4.08,3.60,3.26,3.37,3.23,2.62,2.64,2.56,1.38,2.92,2.21]
RE_lpos = [(-1.04,3.88),(-1.04,3.88),(-1.04,3.88),(-1.99,3.03),(-0.92,3.08),(-0.92,3.08),(-1.04,2.62),(-0.95,2.09),(-0.95,2.09),(-0.82,1.45),(1.48,3.0),(1.05,2.23)]
RE_bg = [(-0.32,3.83),(-0.48,3.23),(-0.50,3.13),(-0.46,2.93),(-0.39,2.91),(-0.48,2.55),(-0.41,2.55),(-0.43,2.21),(-0.53,2.16),(-0.35,2.06),(-0.32,1.91),(-0.39,1.62),(-0.32,1.25),(-0.29,1.04),(-0.46,1.33),(-0.57,0.85),(-0.39,0.89),(-0.62,0.75),(-0.46,0.51),(-0.24,0.75),(-0.20,0.51),(-0.13,0.31),(-0.06,0.12),(0.08,0.21),(0.13,0.41),(0.20,0.57),(0.27,0.70),(0.32,0.99),(0.37,1.38),(0.32,1.48),(0.48,1.70),(0.44,2.74),(0.56,2.58),(0.57,2.52),(0.34,0.55),(0.46,0.75),(-0.17,0.85),(-0.03,0.04),(0.03,0.06),(-0.1,0.2),(0.1,0.3),(-0.27,1.6),(-0.36,1.1)]

# Right (F) STL healthy
RF_names = ["A2MG","","","GELS","","PON1","ALS","FETUA","","ALS","CHLE","ANGT","A2AP","AMBP","FIBB","CO9","FIBB","ITIH3","FIBA"]
RF_fc = [-0.71,-0.63,-0.60,-0.79,-0.75,-0.90,-0.70,-0.68,-0.65,-0.74,-0.63,-0.85,-0.61,-0.85,1.57,0.66,1.09,0.57,0.92]
RF_q = [4.84,5.20,4.95,5.57,5.74,4.68,4.36,4.28,4.53,3.65,2.86,2.76,2.82,2.34,5.57,4.22,4.43,2.90,2.03]
RF_lpos = [(-0.80,6.62),(-0.80,6.62),(-0.80,6.62),(-0.99,5.62),None,(-1.0,4.68),(-0.94,4.15),(-1.15,3.53),(-1.15,3.53),(-0.60,3.76),(-0.79,3.17),(-1.06,2.61),(-0.62,2.44),(-0.97,1.92),(1.74,5.64),(0.75,4.57),(1.27,4.43),(0.77,2.90),(1.12,2.07)]
RF_bg = [(-0.58,5.72),(-0.58,5.16),(-0.48,4.63),(-0.40,4.43),(-0.36,4.43),(-0.50,4.22),(-0.50,3.80),(-0.50,3.28),(-0.40,3.28),(-0.50,2.86),(-0.45,2.55),(-0.38,2.44),(-0.55,2.23),(-0.36,1.92),(-0.23,1.92),(-0.31,1.61),(-0.40,1.29),(-0.21,1.29),(-0.63,0.81),(-0.45,0.81),(-0.33,0.40),(-0.21,0.56),(-0.11,0.25),(-0.06,0.10),(0.09,0.25),(0.16,0.67),(0.19,0.98),(0.24,1.50),(0.39,2.65),(0.46,2.34),(0.48,3.70),(0.57,4.11),(0.88,0.40),(0.48,0.35),(-0.28,1.0),(-0.15,0.7),(0.02,0.05),(0.05,0.15),(0.12,0.4),(-0.03,0.2),(0.3,1.1),(-0.7,0.6)]

# Venn diagrams: AAL only, SNA only, STL only, AAL&SNA, AAL&STL, SNA&STL, all three
VENN_SETS = ["AAL", "SNA", "STL"]
G_counts = [29, 22, 1, 8, 0, 30, 15]
H_counts = [7, 13, 4, 10, 2, 26, 38]

# ---------------- HELPERS ----------------
def geom(ox, oy, W, H, bl, br, bt, bb, xr, yr):
    return dict(ox=ox, oy=oy, W=W, H=H, bl=bl, br=br, bt=bt, bb=bb, xr=xr, yr=yr)

def new_fig(g):
    # the plotting frame covers the whole canvas; axes are pinned inside it
    fw = g["W"] - g["bl"] - g["br"]
    fh = g["H"] - g["bt"] - g["bb"]
    sx = fw / (g["xr"][1] - g["xr"][0])
    sy = fh / (g["yr"][1] - g["yr"][0])
    x0 = g["xr"][0] - g["bl"] / sx
    x1 = g["xr"][1] + g["br"] / sx
    y0 = g["yr"][0] - g["bb"] / sy
    y1 = g["yr"][1] + g["bt"] / sy
    p = figure(width=g["W"], height=g["H"], x_range=Range1d(x0, x1), y_range=Range1d(y0, y1),
               min_border=0, output_backend="svg", toolbar_location=None, title=None)
    p.outline_line_color = None
    p.xgrid.visible = False
    p.ygrid.visible = False
    p.xaxis.fixed_location = g["yr"][0]
    p.yaxis.fixed_location = g["xr"][0]
    p.xaxis.bounds = tuple(g["xr"])
    p.yaxis.bounds = tuple(g["yr"])
    return p

def style_axes(p, xt, yt, tpx, yfmt=None, lw=1.2, tick_out=3, color="#333333", lab_color="#595959"):
    p.xaxis.ticker = FixedTicker(ticks=xt)
    p.yaxis.ticker = FixedTicker(ticks=yt)
    if yfmt:
        p.yaxis.formatter = NumeralTickFormatter(format=yfmt)
    for ax in (p.xaxis, p.yaxis):
        ax.axis_line_color = color
        ax.axis_line_width = lw
        ax.major_tick_line_color = color
        ax.major_tick_line_width = lw
        ax.major_tick_in = 0
        ax.major_tick_out = tick_out
        ax.minor_tick_line_color = None
        ax.major_label_text_font = FONT
        ax.major_label_text_font_size = f"{tpx}px"
        ax.major_label_text_color = lab_color
        ax.major_label_standoff = 2

def put(p, g, text, X, Y, size, color="#111111", bold=False, rot=False):
    p.add_layout(Label(x=X - g["ox"], y=g["oy"] + g["H"] - Y, x_units="screen", y_units="screen", text=text,
                       text_font=FONT, text_font_size=f"{size}px", text_color=color,
                       text_font_style="bold" if bold else "normal", text_align="center",
                       text_baseline="middle", angle=math.pi / 2 if rot else 0))

def annotate(p, g, names, xs, ys, lpos, cols, fpx, hsize, tcols=None):
    if tcols is None:
        tcols = cols
    sxu = (g["W"] - g["bl"] - g["br"]) / (g["xr"][1] - g["xr"][0])
    syu = (g["H"] - g["bt"] - g["bb"]) / (g["yr"][1] - g["yr"][0])
    lookup = {}
    for n, lp in zip(names, lpos):
        if n and lp is not None:
            lookup[lp] = n
    tx, ty, tt, tc = [], [], [], []
    s0x, s0y, s1x, s1y, sc = [], [], [], [], []
    for n, x, y, lp, c, t in zip(names, xs, ys, lpos, cols, tcols):
        if lp is None:
            continue
        lx, ly = lp
        if n:
            tx.append(lx); ty.append(ly); tt.append(n); tc.append(t)
        lab = lookup.get(lp, n)
        hw = len(lab) * fpx * 0.31 + 1.5
        hh = fpx * 0.5 + 1
        dx = (x - lx) * sxu
        dy = (y - ly) * syu
        if abs(dx) <= hw and abs(dy) <= hh:
            continue
        tpar = min(hw / abs(dx) if dx else 1e9, hh / abs(dy) if dy else 1e9)
        dist = (1 - tpar) * math.hypot(dx, dy)
        if dist < 7:
            continue
        s0x.append(x); s0y.append(y)
        s1x.append(lx + tpar * dx / sxu); s1y.append(ly + tpar * dy / syu)
        sc.append(t)
    if s0x:
        p.segment(s0x, s0y, s1x, s1y, line_color=sc, line_width=0.7)
    p.scatter(list(xs), list(ys), size=hsize, color=list(cols), line_color=None)
    p.text(tx, ty, text=tt, text_color=tc, text_font=value(FONT), text_font_size=value(f"{fpx}px"),
           text_align="center", text_baseline="middle")

def volcano(g, bg, names, fc, q, lpos, cneg, cpos, gsize, hsize, fpx, xt, yt, tpx, yfmt=None, lw=1.2):
    p = new_fig(g)
    style_axes(p, xt, yt, tpx, yfmt, lw)
    p.scatter([a for a, b in bg], [b for a, b in bg], size=gsize, color=GRAY, line_color=None)
    n = min(len(names), len(fc), len(q), len(lpos))
    cols = [cneg if v < 0 else cpos for v in fc[:n]]
    annotate(p, g, names[:n], fc[:n], q[:n], lpos[:n], cols, fpx, hsize)
    return p

def cross(g, bg, names, xs, ys, lpos, xt, yt, xb, yb):
    p = new_fig(g)
    p.xaxis.fixed_location = 0
    p.yaxis.fixed_location = 0
    style_axes(p, xt, yt, 14, lw=1.6, tick_out=6, color="#4a4a4a", lab_color="#333333")
    p.xaxis.major_label_standoff = 3
    p.xaxis.bounds = xb
    p.yaxis.bounds = yb
    p.scatter([a for a, b in bg], [b for a, b in bg], size=6.5, color="#CACACA", alpha=0.85, line_color=None)
    n = min(len(names), len(xs), len(ys), len(lpos))
    cols = [GREEN if v > 0 else RED for v in ys[:n]]
    annotate(p, g, names[:n], xs[:n], ys[:n], lpos[:n], cols, 9.5, 7, tcols=["#222222"] * n)
    return p

def venn(ox, oy, W, H, tag, title, counts, circ, cpos, lpos, tpos, gpos, r):
    p = figure(width=W, height=H, x_range=Range1d(ox, ox + W), y_range=Range1d(oy + H, oy),
               min_border=0, x_axis_type=None, y_axis_type=None, output_backend="svg",
               toolbar_location=None, title=None)
    p.outline_line_color = None
    p.xgrid.visible = False
    p.ygrid.visible = False
    set_cols = ["#E5323B", "#3A3F9E", "#8A5F3A"]
    p.circle([ox + c[0] for c in circ], [oy + c[1] for c in circ], radius=r,
             fill_color=None, line_color=set_cols, line_width=1.4)
    p.text([ox + gpos[0]], [oy + gpos[1]], text=[tag], text_font=value(FONT),
           text_font_size=value("17px"), text_font_style="bold", text_color="#111111",
           text_align="center", text_baseline="middle")
    p.text([ox + tpos[0]], [oy + tpos[1]], text=[title], text_font=value(FONT),
           text_font_size=value("14px"), text_font_style="bold", text_color="#222222",
           text_align="center", text_baseline="middle")
    p.text([ox + l[0] for l in lpos], [oy + l[1] for l in lpos], text=VENN_SETS,
           text_font=value(FONT), text_font_size=value("15px"), text_font_style="bold",
           text_color=set_cols, text_align="center", text_baseline="middle")
    ccols = set_cols + ["#222222"] * 3
    p.text([ox + c[0] for c in cpos[:6]], [oy + c[1] for c in cpos[:6]], text=[str(v) for v in counts[:6]],
           text_font=value(FONT), text_font_size=value("13px"), text_color=ccols,
           text_align="center", text_baseline="middle")
    p.text([ox + cpos[6][0]], [oy + cpos[6][1]], text=[str(counts[6])], text_font=value(FONT),
           text_font_size=value("16px"), text_font_style="bold", text_color="#111111",
           text_align="center", text_baseline="middle")
    return p

# ---------------- LEFT BLOCK ----------------
gA = geom(0, 0, 495, 335, 39, 4, 67, 34, (-3.31, 3.18), (-0.17, 3.10))
pA = volcano(gA, A_bg, A_names, A_fc, A_lp, A_lpos, ORANGE, TEAL, 4.5, 5, 10.5, [-2, 0, 2], [0, 1, 2, 3], 11)
for t in [("(A)", 32, 29, 17, "#111111", True, False), ("UKOPS", 263, 43, 17, "#111111", True, False),
          ("BENIGN", 88, 76, 15, ORANGE, True, False), ("HGSOC", 441, 76, 15, TEAL, True, False),
          ("Log2 Fold Change", 290, 322, 16, "#222222", False, False), ("-Log10(pval)", 25, 187, 15, "#222222", False, True)]:
    put(pA, gA, *t)

gB = geom(495, 0, 445, 335, 23, 10, 40, 36, (-2.95, 2.95), (-0.08, 3.03))
pB = volcano(gB, B_bg, B_names, B_fc, B_lp, B_lpos, BROWN, TEAL, 6.5, 6.5, 10, [-2, 0, 2], [0, 1, 2, 3], 11)
for t in [("(B)", 506, 25, 17, "#111111", True, False), ("UKOPS", 733, 43, 17, "#111111", True, False),
          ("HEALTHY", 562, 54, 15, BROWN, True, False), ("HGSOC", 882, 57, 15, TEAL, True, False),
          ("Log2 Fold Change", 738, 322, 16, "#222222", False, False)]:
    put(pB, gB, *t)

gC = geom(0, 335, 488, 335, 51, 15, 58, 42, (-3.31, 3.31), (-0.15, 3.13))
pC = volcano(gC, C_bg, C_names, C_fc, C_lp, C_lpos, ORANGE, TEAL, 4.5, 5, 10.5, [-2, 0, 2], [0, 1, 2, 3], 11)
for t in [("(C)", 32, 367, 17, "#111111", True, False), ("UKCTOCS", 254, 386, 17, "#111111", True, False),
          ("BENIGN", 100, 399, 15, ORANGE, True, False), ("HGSOC", 439, 399, 15, TEAL, True, False),
          ("Log2 Fold Change", 275, 652, 16, "#222222", False, False), ("-Log10(pval)", 31, 517, 15, "#222222", False, True)]:
    put(pC, gC, *t)

gD = geom(488, 335, 452, 335, 27, 11, 58, 40, (-3.0, 2.77), (-0.05, 3.02))
pD = volcano(gD, D_bg, D_names, D_fc, D_lp, D_lpos, BROWN, TEAL, 6.5, 6.5, 10, [-2, 0, 2], [0, 1, 2, 3], 11)
for t in [("(D)", 502, 367, 17, "#111111", True, False), ("UKCTOCS", 727, 386, 17, "#111111", True, False),
          ("HEALTHY", 560, 403, 15, BROWN, True, False), ("HGSOC", 894, 403, 15, TEAL, True, False),
          ("Log2 Fold Change", 738, 656, 16, "#222222", False, False)]:
    put(pD, gD, *t)

gE = geom(0, 670, 490, 370, 73, 17, 34, 66, (-2.01, 2.02), (-2.02, 2.03))
pE = cross(gE, E_bg, E_names, E_x, E_y, E_lpos, [-2, -1, 1, 2], [-2, -1, 1, 2], (-2, 2.05), (-2, 2))
for t in [("(E)", 30, 699, 17, "#111111", True, False),
          ("Log\u2082FC HGSOC/Benign (UKCTOCS)", 275, 1000, 16, "#333333", False, False),
          ("Log\u2082FC HGSOC/Benign (UKOPS)", 63, 860, 16, "#333333", False, True)]:
    put(pE, gE, *t)

gF = geom(490, 670, 450, 370, 42, 13, 37, 64, (-3.0, 2.95), (-2.02, 2.03))
pF = cross(gF, F_bg, F_names, F_x, F_y, F_lpos, [-2, 2], [-2, -1, 1, 2], (-3.0, 2.95), (-2, 2))
for t in [("(F)", 515, 699, 17, "#111111", True, False),
          ("Log\u2082 FC Healthy/HGSOC (UKCTOCS)", 735, 1000, 16, "#333333", False, False),
          ("Log\u2082 FC Healthy/HGSOC(UKOPS)", 524, 863, 16, "#333333", False, True)]:
    put(pF, gF, *t)

# ---------------- RIGHT BLOCK ----------------
def right_labels(p, g, lab, title, left_txt, left_col, lx, ly, hx, hy, tx, ty, px_, py_, ax_, ay_, yx, yy):
    put(p, g, lab, px_, py_, 17, "#111111", True)
    put(p, g, title, tx, ty, 16, "#111111", True)
    put(p, g, left_txt, lx, ly, 11, left_col, True)
    put(p, g, "HGSOC", hx, hy, 11, TEAL_R, True)
    put(p, g, "Log2 Fold Change", ax_, ay_, 11.5, "#222222")
    put(p, g, "-Log10 (qval)", yx, yy, 11.5, "#222222", False, True)

XT = [-2, -1, 0, 1, 2]
gRA = geom(940, 0, 405, 238, 82, 10, 55, 34, (-2.18, 2.36), (-0.2, 4.87))
rA = volcano(gRA, RA_bg, RA_names, RA_fc, RA_q, RA_lpos, ORANGE_R, TEAL_R, 3, 3.5, 8.5, XT, [0, 1, 2, 3, 4], 9)
right_labels(rA, gRA, "(A)", "AAL", "BENIGN", ORANGE_R, 1052, 55, 1312, 55, 1170, 30, 1011, 30, 1180, 226, 1005, 133)

gRB = geom(1345, 0, 350, 238, 27, 30, 60, 34, (-2.21, 2.2), (-0.22, 5.35))
rB = volcano(gRB, RB_bg, RB_names, RB_fc, RB_q, RB_lpos, BROWN_R, TEAL_R, 3, 3.5, 8.5, XT, [0, 1, 2, 3, 4, 5], 9)
right_labels(rB, gRB, "(B)", "AAL", "HEALTHY", BROWN_R, 1405, 57, 1660, 55, 1512, 30, 1362, 29, 1528, 226, 1357, 117)

gRC = geom(940, 238, 405, 252, 86, 8, 62, 37, (-2.19, 2.2), (-0.17, 4.27))
rC = volcano(gRC, RC_bg, RC_names, RC_fc, RC_q, RC_lpos, ORANGE_R, TEAL_R, 3, 3.5, 8.5, XT, [0, 1, 2, 3, 4], 9)
right_labels(rC, gRC, "(C)", "SNA", "BENIGN", ORANGE_R, 1065, 300, 1277, 300, 1170, 265, 1014, 275, 1180, 473, 1012, 377)

gRD = geom(1345, 238, 350, 252, 35, 23, 63, 37, (-2.2, 2.19), (-0.38, 9.2))
rD = volcano(gRD, RD_bg, RD_names, RD_fc, RD_q, RD_lpos, BROWN_R, TEAL_R, 3, 3.5, 8.5, XT, [0, 2.5, 5, 7.5], 9, yfmt="0.0")
right_labels(rD, gRD, "(D)", "SNA", "HEALTHY", BROWN_R, 1446, 307, 1628, 308, 1512, 265, 1360, 275, 1528, 473, 1362, 382)

gRE = geom(940, 490, 405, 250, 86, 8, 65, 30, (-2.19, 2.2), (-0.22, 4.29))
rE = volcano(gRE, RE_bg, RE_names, RE_fc, RE_q, RE_lpos, ORANGE_R, TEAL_R, 3, 3.5, 8.5, XT, [0, 1, 2, 3, 4], 9)
right_labels(rE, gRE, "(E)", "STL", "BENIGN", ORANGE_R, 1065, 562, 1277, 562, 1170, 514, 1013, 527, 1183, 729, 1011, 633)

gRF = geom(1345, 490, 350, 250, 33, 23, 68, 27, (-2.2, 2.16), (-0.44, 9.2))
rF = volcano(gRF, RF_bg, RF_names, RF_fc, RF_q, RF_lpos, BROWN_R, TEAL_R, 3, 3.5, 8.5, XT, [0, 2.5, 5, 7.5], 9, yfmt="0.0")
right_labels(rF, gRF, "(F)", "STL", "HEALTHY", BROWN_R, 1428, 567, 1617, 567, 1512, 514, 1360, 527, 1529, 730, 1357, 627)

vG = venn(940, 740, 405, 300, "(G)", "BENIGN vs HGSOC", G_counts,
          [(181, 141), (280, 141), (249, 218)],
          [(152, 129), (313, 129), (245, 236), (231, 115), (196, 193), (276, 193), (234, 164)],
          [(179, 82), (280, 82), (250, 277)], (232, 27), (78, 32), 76)
vH = venn(1345, 740, 350, 300, "(H)", "HEALTHY vs HGSOC", H_counts,
          [(119, 146), (221, 146), (195, 205)],
          [(85, 133), (256, 133), (184, 245), (164, 121), (133, 200), (218, 199), (170, 169)],
          [(117, 84), (222, 84), (193, 271)], (166, 27), (51, 32), 79)

left = column(row(pA, pB), row(pC, pD), row(pE, pF))
right = column(row(rA, rB), row(rC, rD), row(rE, rF), row(vG, vH))
root = row(left, right)

open("out.html", "w").write(file_html(root, INLINE))
